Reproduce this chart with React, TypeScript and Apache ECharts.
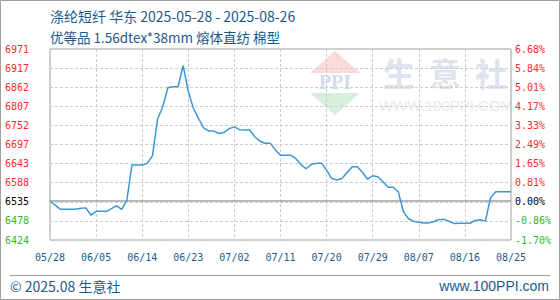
import React, { useEffect, useRef } from "react";
import * as echarts from "echarts";

const startDate = "2025-05-28";
const prices = [
  6535, 6524, 6512, 6512, 6512, 6512, 6515, 6516, 6495, 6506,
  6506, 6506, 6514, 6522, 6512, 6538, 6639, 6639, 6639, 6644,
  6665, 6770, 6805, 6860, 6863, 6863, 6923, 6850, 6801, 6772,
  6745, 6736, 6736, 6729, 6732, 6743, 6748, 6740, 6739, 6739,
  6719, 6707, 6701, 6701, 6682, 6667, 6667, 6667, 6657, 6640,
  6628, 6640, 6644, 6644, 6624, 6600, 6596, 6600, 6617, 6634,
  6634, 6618, 6598, 6608, 6605, 6591, 6575, 6575, 6562, 6505,
  6485, 6478, 6475, 6473, 6473, 6477, 6483, 6483, 6477, 6471,
  6472, 6472, 6472, 6480, 6482, 6478, 6545, 6562, 6562, 6562,
  6562,
];
const xTickLabels = ["05/28", "06/05", "06/14", "06/23", "07/02", "07/11", "07/20", "07/29", "08/07", "08/16", "08/25"];
const yLeftLabels = ["6424", "6478", "6535", "6588", "6643", "6697", "6752", "6807", "6862", "6917", "6971"];
const yRightLabels = ["-1.70%", "-0.86%", "0.00%", "0.81%", "1.65%", "2.49%", "3.33%", "4.17%", "5.01%", "5.84%", "6.68%"];
const baseValue = 6535;
const yMin = 6424;
const yMax = 6971;

const dates: string[] = (() => {
  const out: string[] = [];
  const s = new Date(startDate + "T00:00:00Z").getTime();
  for (let i = 0; i < prices.length; i++) {
    out.push(new Date(s + i * 86400000).toISOString().slice(0, 10));
  }
  return out;
})();

const BLUE_TEXT = "#1b5a8c";
const MONO = "'DejaVu Sans Mono', 'Liberation Mono', monospace";
const CJK = "'Noto Sans CJK SC', 'Noto Sans', sans-serif";

export default function App() {
  const ref = useRef<HTMLDivElement>(null);
  useEffect(() => {
    if (!ref.current) return;
    const chart = echarts.init(ref.current, undefined, { renderer: "svg" });
    const step = (yMax - yMin) / 10;
    const idxOf = (v: number) => Math.round((v - yMin) / step);
    const tone = (i: number) => (i > 2 ? "r" : i === 2 ? "k" : "g");
    const rich = {
      r: { color: "#ff2a2a", fontFamily: MONO, fontSize: 10 },
      k: { color: "#000000", fontFamily: MONO, fontSize: 10 },
      g: { color: "#2db82d", fontFamily: MONO, fontSize: 10 },
    };
    chart.setOption({
      animation: false,
      grid: {
        left: 50,
        right: 49,
        top: 49,
        bottom: 60,
        show: true,
        borderColor: "#a0a0a0",
        borderWidth: 1,
        backgroundColor: "transparent",
      },
      xAxis: {
        type: "category",
        data: dates,
        boundaryGap: false,
        axisLine: { show: false },
        axisTick: { show: false },
        axisLabel: {
          interval: 8,
          margin: 12,
          color: BLUE_TEXT,
          fontFamily: MONO,
          fontSize: 10,
          formatter: (_v: string, i: number) => xTickLabels[Math.round(i / 9)] ?? "",
        },
        splitLine: {
          show: true,
          interval: 8,
          lineStyle: { color: "#cccccc", type: [3, 2], width: 1 },
        },
      },
      yAxis: [
        {
          type: "value",
          min: yMin,
          max: yMax,
          interval: step,
          position: "left",
          axisLine: { show: false },
          axisTick: { show: false },
          splitLine: { show: true, lineStyle: { color: "#cccccc", type: [3, 2], width: 1 } },
          axisLabel: {
            align: "left",
            margin: 45,
            rich,
            formatter: (v: number) => {
              const i = idxOf(v);
              return `{${tone(i)}|${yLeftLabels[i] ?? ""}}`;
            },
          },
        },
        {
          type: "value",
          min: yMin,
          max: yMax,
          interval: step,
          position: "right",
          axisLine: { show: false },
          axisTick: { show: false },
          splitLine: { show: false },
          axisLabel: {
            align: "left",
            margin: 4,
            rich,
            formatter: (v: number) => {
              const i = idxOf(v);
              return `{${tone(i)}|${yRightLabels[i] ?? ""}}`;
            },
          },
        },
      ],
      graphic: [
        { type: "rect", shape: { x: 0.5, y: 0.5, width: 559, height: 299 }, style: { fill: "none", stroke: "#a0a0a0", lineWidth: 1 }, z: 0 },
        { type: "text", x: 50, y: 16, style: { text: "涤纶短纤 华东 2025-05-28 - 2025-08-26", fill: BLUE_TEXT, font: `14px ${CJK}`, verticalAlign: "middle" } },
        { type: "text", x: 50, y: 37, style: { text: "优等品 1.56dtex*38mm 熔体直纺 棉型", fill: BLUE_TEXT, font: `13.5px ${CJK}`, verticalAlign: "middle" } },
        { type: "line", shape: { x1: 10, y1: 275.5, x2: 550, y2: 275.5 }, style: { stroke: "#a0a0a0", lineWidth: 1 } },
        { type: "text", x: 10, y: 286, style: { text: "© 2025.08 生意社", fill: BLUE_TEXT, font: `14px ${CJK}`, verticalAlign: "middle" } },
        { type: "text", x: 549, y: 286, style: { text: "www.100PPI.com", fill: BLUE_TEXT, font: `14px 'Liberation Sans', Arial, sans-serif`, align: "right", verticalAlign: "middle" } },
        // watermark
        { type: "polygon", shape: { points: [[335, 51], [310, 73], [360, 73]] }, style: { fill: "#fadada" }, z: -1, silent: true },
        { type: "text", x: 335, y: 82, style: { text: "PPI", fill: "#d6dcec", font: `bold 20px 'Liberation Serif', serif`, align: "center", verticalAlign: "middle" }, z: -1, silent: true },
        { type: "polygon", shape: { points: [[310, 93], [360, 93], [335, 115]] }, style: { fill: "#d9efdd" }, z: -1, silent: true },
        { type: "text", x: 399, y: 72, style: { text: "生", fill: "#dfe3ee", font: `bold 32px ${CJK}`, align: "center", verticalAlign: "middle" }, z: -1, silent: true },
        { type: "text", x: 445, y: 72, style: { text: "意", fill: "#dfe3ee", font: `bold 32px ${CJK}`, align: "center", verticalAlign: "middle" }, z: -1, silent: true },
        { type: "text", x: 491, y: 72, style: { text: "社", fill: "#dfe3ee", font: `bold 32px ${CJK}`, align: "center", verticalAlign: "middle" }, z: -1, silent: true },
        { type: "text", x: 446, y: 105, style: { text: "WWW.100PPI.COM", fill: "#ebebeb", font: `15px 'Liberation Sans', Arial, sans-serif`, align: "center", verticalAlign: "middle" }, z: -1, silent: true },
      ],
      series: [
        {
          type: "line",
          data: prices,
          symbol: "none",
          lineStyle: { color: "#3a98d6", width: 1.5 },
          z: 5,
          markLine: {
            silent: true,
            symbol: "none",
            label: { show: false },
            lineStyle: { color: "#a0a0a0", type: "solid", width: 1.5 },
            data: [{ yAxis: baseValue }],
          },
        },
      ],
    });
    return () => chart.dispose();
  }, []);
  return <div ref={ref} style={{ position: "absolute", left: 0, top: 0, width: 560, height: 300 }} />;
}
